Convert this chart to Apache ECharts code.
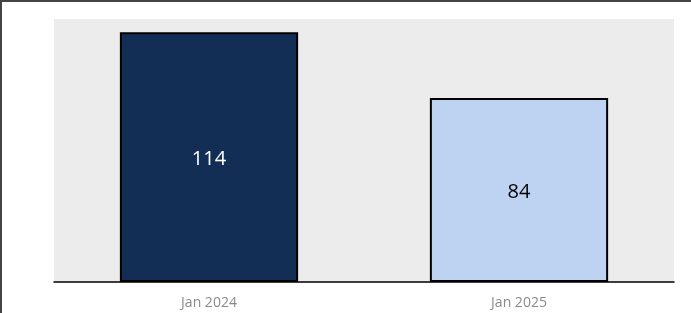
<!DOCTYPE html>
<html>
<head>
<meta charset="utf-8">
<script src="https://cdn.jsdelivr.net/npm/echarts@6/dist/echarts.min.js"></script>
<style>
  html, body { margin: 0; padding: 0; background: #fff; }
  #chart { width: 691px; height: 313px; box-sizing: border-box; border-left: 2px solid #444; border-top: 2px solid #444; }
</style>
</head>
<body>
<div id="chart"></div>
<script>
const categories = ['Jan 2024', 'Jan 2025'];
const values = [114, 84];
const barColors = ['#132e55', '#bed3f1'];
const labelColors = ['#ffffff', '#000000'];

const chart = echarts.init(document.getElementById('chart'));

const option = {
  animation: false,
  grid: { left: 52, right: 17, top: 17, bottom: 31, show: true, backgroundColor: '#ececec', borderWidth: 0 },
  xAxis: {
    type: 'category',
    data: categories,
    axisLine: { lineStyle: { color: '#000', width: 1.5 } },
    axisTick: { show: false },
    axisLabel: { color: '#8a8a8a', fontSize: 14, fontFamily: 'Open Sans', margin: 14 }
  },
  yAxis: {
    type: 'value',
    min: 0,
    max: 120,
    show: false,
    splitLine: { show: false }
  },
  series: [{
    type: 'bar',
    barWidth: '57.5%',
    data: values.map((v, i) => ({
      value: v,
      itemStyle: { color: barColors[i] },
      label: { color: labelColors[i] }
    })),
    itemStyle: { borderColor: '#000', borderWidth: 2 },
    label: { show: true, position: 'inside', fontSize: 20, fontFamily: 'Open Sans', offset: [0, 2] }
  }]
};
chart.setOption(option);
</script>
</body>
</html>
